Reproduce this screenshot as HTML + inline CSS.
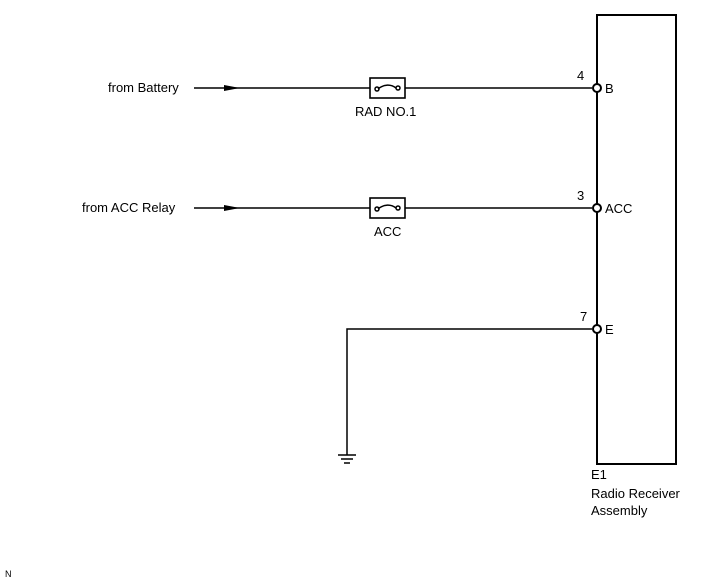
<!DOCTYPE html>
<html><head><style>body{margin:0;background:#fff}svg{display:block}text{font-family:"Liberation Sans",sans-serif;font-size:13px;fill:#000}</style></head>
<body><svg width="713" height="581" xmlns="http://www.w3.org/2000/svg">
<rect x="597" y="15" width="79" height="449" fill="none" stroke="#000" stroke-width="2"/>
<g stroke="#000" stroke-width="1.5" fill="none">
<line x1="194" y1="88" x2="370" y2="88"/><line x1="405" y1="88" x2="592" y2="88"/>
<line x1="194" y1="208" x2="370" y2="208"/><line x1="405" y1="208" x2="592" y2="208"/>
<polyline points="592,329 347,329 347,455"/>
<line x1="338" y1="455" x2="356" y2="455"/><line x1="341" y1="459" x2="353" y2="459"/><line x1="344" y1="463" x2="350" y2="463"/>
<rect x="370" y="78" width="35" height="20" stroke-width="1.6"/>
<rect x="370" y="198" width="35" height="20" stroke-width="1.6"/>
<path d="M378 89 C384 84,391 84,396 88"/><circle cx="377" cy="89" r="2"/><circle cx="398" cy="88" r="2"/>
<path d="M378 209 C384 204,391 204,396 208"/><circle cx="377" cy="209" r="2"/><circle cx="398" cy="208" r="2"/>
</g>
<polygon points="224,85 240,88 224,91" fill="#000"/>
<polygon points="224,205 240,208 224,211" fill="#000"/>
<g fill="#fff" stroke="#000" stroke-width="2"><circle cx="597" cy="88" r="4"/><circle cx="597" cy="208" r="4"/><circle cx="597" cy="329" r="4"/></g>
<text x="108" y="92">from Battery</text>
<text x="82" y="212">from ACC Relay</text>
<text x="355" y="116">RAD NO.1</text>
<text x="374" y="236">ACC</text>
<text x="577" y="80">4</text><text x="577" y="200">3</text><text x="580" y="321">7</text>
<text x="605" y="93">B</text><text x="605" y="213">ACC</text><text x="605" y="334">E</text>
<text x="591" y="479">E1</text>
<text x="591" y="498">Radio Receiver</text>
<text x="591" y="515">Assembly</text>
<text x="5" y="577" style="font-size:9px">N</text>
</svg></body></html>
